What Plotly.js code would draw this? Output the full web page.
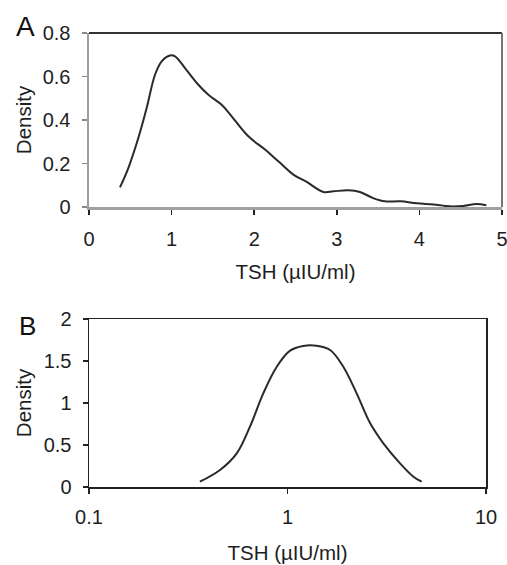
<!DOCTYPE html>
<html><head><meta charset="utf-8">
<script src="https://cdn.plot.ly/plotly-3.0.1.min.js"></script>
<style>html,body{margin:0;padding:0;background:#fff}</style>
</head><body><div id="chart" style="width:507px;height:565px"></div>
<script>
// Panel A: density of TSH (linear scale)
var tshA = [0.375,0.476,0.597,0.698,0.799,0.880,0.981,1.041,1.162,1.324,1.445,1.606,1.727,1.929,2.131,2.292,2.474,2.636,2.837,2.958,3.14,3.28,3.44,3.58,3.77,3.97,4.17,4.37,4.53,4.69,4.81];
var densA = [0.090,0.179,0.317,0.455,0.608,0.670,0.697,0.693,0.639,0.562,0.516,0.470,0.417,0.325,0.264,0.210,0.149,0.115,0.069,0.072,0.077,0.069,0.041,0.026,0.026,0.017,0.011,0.003,0.005,0.014,0.008];
// Panel B: density of TSH (log scale)
var tshB = [0.362,0.457,0.555,0.647,0.755,0.883,1.03,1.20,1.40,1.64,1.91,2.23,2.61,3.04,3.69,4.31,4.74];
var densB = [0.063,0.202,0.40,0.718,1.115,1.432,1.623,1.679,1.682,1.631,1.432,1.115,0.758,0.520,0.282,0.123,0.063];
var xTicksA = [0,1,2,3,4,5];
var yTicksA = [0,0.2,0.4,0.6,0.8];
var yTickTextA = ['0','0.2','0.4','0.6','0.8'];
var xTicksB = [0.1,1,10];
var xTickTextB = ['0.1','1','10'];
var yTicksB = [0,0.5,1,1.5,2];
var yTickTextB = ['0','0.5','1','1.5','2'];
var xTitle = 'TSH (µIU/ml)';
var yTitle = 'Density';

var FONT = 'Liberation Sans, Arial, sans-serif';
var TXT = '#1e1e1e';
var tickFont = {family: FONT, size: 20, color: TXT};
var titleFont = {family: FONT, size: 20.5, color: TXT};

var traces = [
  {x: tshA, y: densA, xaxis: 'x', yaxis: 'y', mode: 'lines', line: {color: '#2a2a2a', width: 2, shape: 'spline', smoothing: 1}, hoverinfo: 'none'},
  {x: tshB, y: densB, xaxis: 'x2', yaxis: 'y2', mode: 'lines', line: {color: '#2a2a2a', width: 2, shape: 'spline', smoothing: 1}, hoverinfo: 'none'}
];

var dAx = [89/507, 502/507], dAy = [1-207/565, 1-33/565];
var dBx = [89/507, 486/507], dBy = [1-487/565, 1-319/565];

var layout = {
  width: 507, height: 565,
  margin: {l: 0, r: 0, t: 0, b: 0},
  paper_bgcolor: '#fff', plot_bgcolor: '#fff',
  showlegend: false,
  xaxis: {domain: dAx, anchor: 'y', range: [0,5], tickvals: xTicksA, ticks: 'outside', ticklen: 5, tickwidth: 1.5, tickcolor: '#222',
    showgrid: false, zeroline: false, showline: true, linecolor: '#a0a0a0', linewidth: 2.5, tickfont: tickFont, ticklabelstandoff: 7,
    ticklabeloverflow: 'allow', title: {text: xTitle, font: titleFont, standoff: 16}},
  yaxis: {domain: dAy, anchor: 'x', range: [0,0.8], tickvals: yTicksA, ticktext: yTickTextA, ticks: 'outside', ticklen: 5, tickwidth: 1.5, tickcolor: '#888',
    showgrid: false, zeroline: false, showline: true, linecolor: '#a0a0a0', linewidth: 2.5, tickfont: tickFont, ticklabelstandoff: 7,
    title: {text: yTitle, font: titleFont, standoff: 6}},
  xaxis2: {domain: dBx, anchor: 'y2', type: 'log', range: [-1,1], tickvals: xTicksB, ticktext: xTickTextB, ticks: 'outside', ticklen: 5, tickwidth: 1.5, tickcolor: '#222',
    showgrid: false, zeroline: false, showline: true, mirror: true, linecolor: '#222', linewidth: 1.5, tickfont: tickFont, ticklabelstandoff: 6,
    ticklabeloverflow: 'allow', title: {text: xTitle, font: titleFont, standoff: 19}},
  yaxis2: {domain: dBy, anchor: 'x2', range: [0,2], tickvals: yTicksB, ticktext: yTickTextB, ticks: 'outside', ticklen: 5, tickwidth: 1.5, tickcolor: '#222',
    showgrid: false, zeroline: false, showline: true, mirror: true, linecolor: '#222', linewidth: 1.5, tickfont: tickFont, ticklabelstandoff: 7,
    title: {text: yTitle, font: titleFont, standoff: 6}},
  shapes: [
    {type: 'line', xref: 'x domain', yref: 'y domain', x0: 0, x1: 1, y0: 1, y1: 1, line: {color: '#333', width: 2}},
    {type: 'line', xref: 'x domain', yref: 'y domain', x0: 1, x1: 1, y0: 0, y1: 1, line: {color: '#777', width: 2}}
  ],
  annotations: [
    {text: 'A', xref: 'paper', yref: 'paper', x: 25/507, y: 1-26/565, xanchor: 'center', yanchor: 'middle', showarrow: false, font: {family: FONT, size: 28, color: '#111'}},
    {text: 'B', xref: 'paper', yref: 'paper', x: 27/507, y: 1-326/565, xanchor: 'center', yanchor: 'middle', showarrow: false, font: {family: FONT, size: 26, color: '#111'}}
  ]
};

Plotly.newPlot('chart', traces, layout, {staticPlot: true, displayModeBar: false});
</script>
</body></html>
